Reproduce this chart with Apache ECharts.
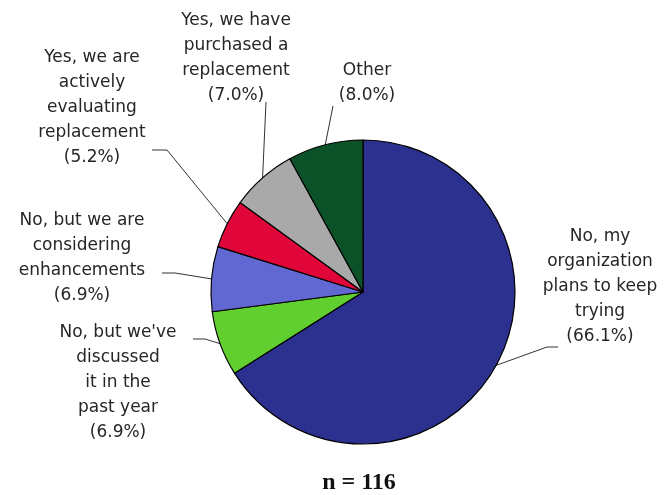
<!DOCTYPE html>
<html>
<head>
<meta charset="utf-8">
<title>Replacement plans</title>
<script src="https://cdn.jsdelivr.net/npm/echarts@6/dist/echarts.min.js"></script>
<style>
  html, body { margin: 0; padding: 0; background: #ffffff; }
  #chart { width: 664px; height: 495px; }
</style>
</head>
<body>
<div id="chart"></div>
<script>
// Survey answers, clockwise from 12 o'clock
const categories = [
  'No, my\norganization\nplans to keep\ntrying',
  'No, but we\'ve\ndiscussed\nit in the\npast year',
  'No, but we are\nconsidering\nenhancements',
  'Yes, we are\nactively\nevaluating\nreplacement',
  'Yes, we have\npurchased a\nreplacement',
  'Other'
];
const shares = [66.1, 6.9, 6.9, 5.2, 7.0, 8.0];
const sampleSize = 116;

const sliceColors = ['#2c3190', '#62cf30', '#6268d2', '#e0063a', '#a9a9a9', '#0b5228'];

// Where each label block sits, and the bend of its leader line
const labelSpots = [
  { x: 600, y: 287, bend: [[547, 347], [558, 347]] },
  { x: 118, y: 383, bend: [[205, 339], [193, 339]] },
  { x: 82,  y: 258, bend: [[175, 273], [162, 273]] },
  { x: 92,  y: 108, bend: [[167, 150], [152, 150]] },
  { x: 236, y: 58,  bend: [[266, 102]] },
  { x: 367, y: 83,  bend: [[333, 106]] }
];

const chart = echarts.init(document.getElementById('chart'), null, { renderer: 'canvas' });

chart.setOption({
  animation: false,
  backgroundColor: '#ffffff',
  title: {
    text: 'n = ' + sampleSize,
    left: 354,
    top: 466,
    textAlign: 'center',
    textStyle: {
      fontFamily: 'Liberation Serif',
      fontWeight: 'bold',
      fontSize: 24,
      color: '#111111'
    }
  },
  series: [{
    type: 'pie',
    center: [363, 292],
    radius: 152,
    startAngle: 90,
    clockwise: true,
    avoidLabelOverlap: false,
    data: categories.map((name, i) => ({
      name: name,
      value: shares[i],
      itemStyle: { color: sliceColors[i] }
    })),
    itemStyle: { borderColor: '#000000', borderWidth: 1.2 },
    label: {
      show: true,
      position: 'outside',
      formatter: p => p.name + '\n(' + p.value.toFixed(1) + '%)',
      fontFamily: 'DejaVu Sans',
      fontSize: 17,
      lineHeight: 25,
      color: '#262626',
      align: 'center'
    },
    labelLine: {
      show: true,
      length: 10,
      length2: 10,
      lineStyle: { color: '#333333', width: 1 }
    },
    labelLayout: function (params) {
      const spot = labelSpots[params.dataIndex];
      const start = params.labelLinePoints ? params.labelLinePoints[0] : spot.bend[0];
      return {
        x: spot.x,
        y: spot.y,
        align: 'center',
        verticalAlign: 'middle',
        labelLinePoints: [start].concat(spot.bend)
      };
    },
    emphasis: { disabled: true }
  }]
});
</script>
</body>
</html>
